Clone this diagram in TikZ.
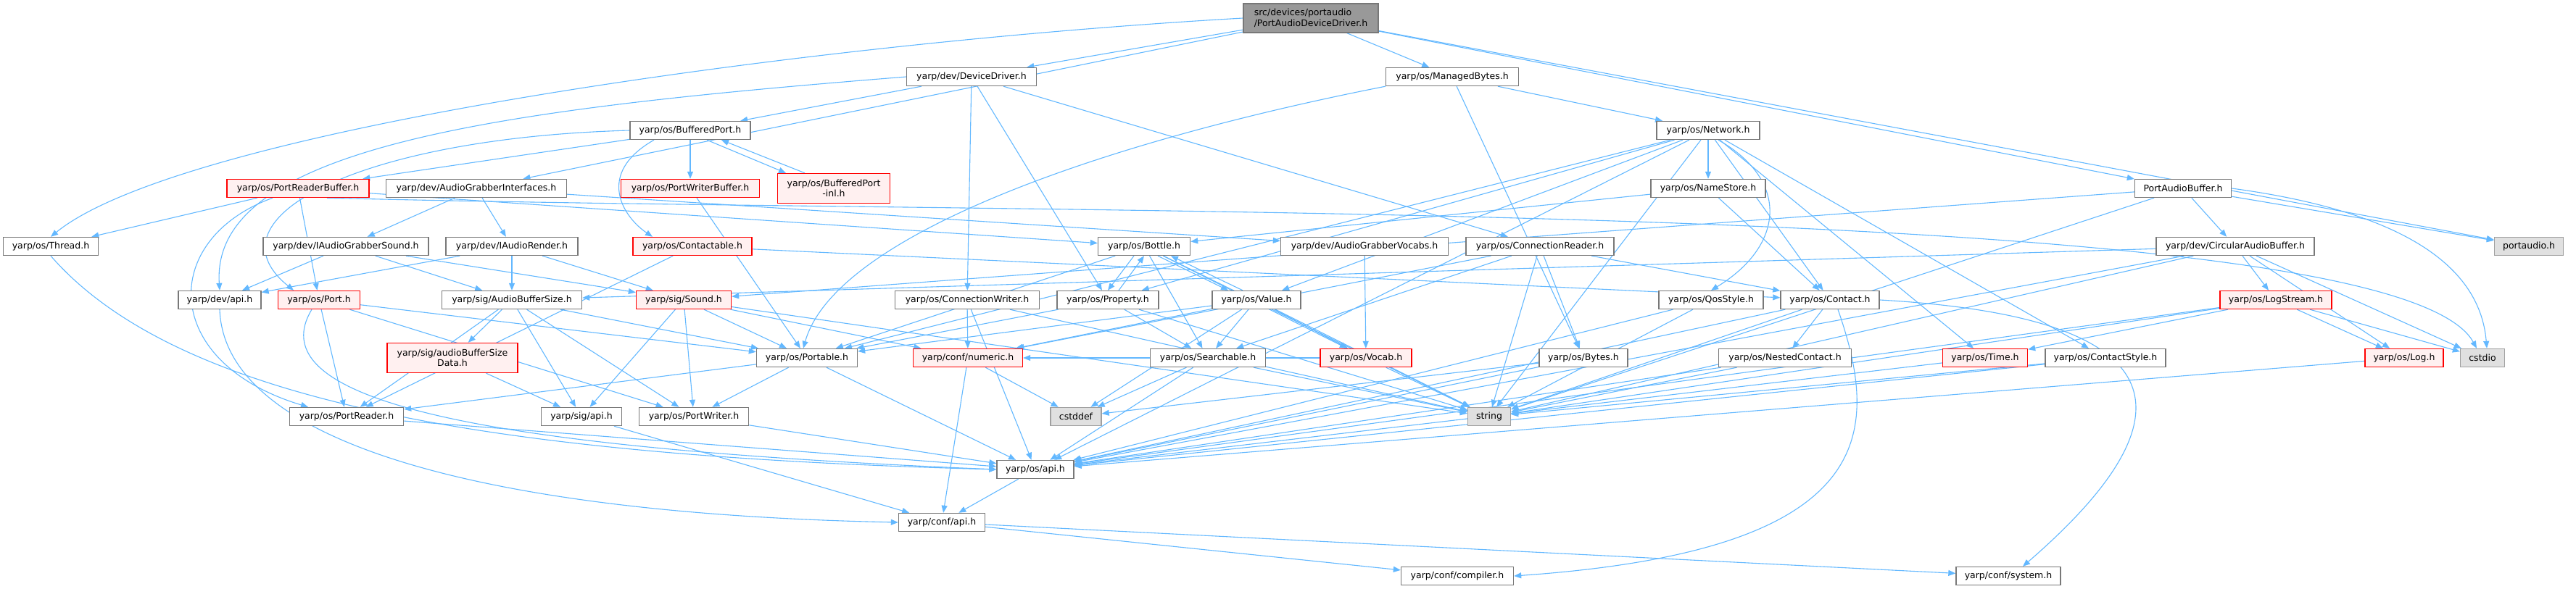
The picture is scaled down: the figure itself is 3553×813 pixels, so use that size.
\documentclass[tikz,border=0pt]{standalone}
\usepackage{fontspec}
\setmainfont{DejaVu Sans}
\usetikzlibrary{arrows.meta,backgrounds}
\definecolor{edgeblue}{RGB}{99,184,255}
\definecolor{boxgray}{RGB}{120,120,120}
\definecolor{syslight}{RGB}{224,224,224}
\definecolor{sysgray}{RGB}{160,160,160}
\definecolor{rootfill}{RGB}{153,153,153}
\definecolor{warnfill}{RGB}{255,240,240}
\tikzset{
  hdr/.style={draw=boxgray,fill=white,line width=1.4pt,minimum height=25pt,inner sep=0pt,
    font=\fontsize{12.5}{14.5}\selectfont},
  wd/.style={minimum width=#1pt},
  warn/.style={hdr,draw=red,fill=warnfill},
  sys/.style={hdr,draw=sysgray,fill=syslight},
  rootbox/.style={hdr,fill=rootfill,minimum height=40pt,align=left},
  dep/.style={draw=edgeblue,line width=1.1pt,-{Triangle[length=10pt,width=8pt]}}
}

\begin{document}
\begin{tikzpicture}[x=1pt,y=-1pt]
  \useasboundingbox (0,0) rectangle (3553,813);
  % top rows
  \node[rootbox,wd=186] (root) at (1808,25) {src/devices/portaudio\\/PortAudioDeviceDriver.h};
  \node[hdr,wd=179] (devdrv) at (1340,106) {yarp/dev/DeviceDriver.h};
  \node[hdr,wd=183] (mbytes) at (2003,106) {yarp/os/ManagedBytes.h};
  \node[hdr,wd=166] (bport) at (952,180) {yarp/os/BufferedPort.h};
  \node[hdr,wd=142] (network) at (2356,180) {yarp/os/Network.h};
  \node[warn,wd=196] (prbuf) at (411,260) {yarp/os/PortReaderBuffer.h};
  \node[hdr,wd=249] (agi) at (657,260) {yarp/dev/AudioGrabberInterfaces.h};
  \node[warn,wd=191] (pwbuf) at (952,260) {yarp/os/PortWriterBuffer.h};
  \node[warn,wd=155,minimum height=41pt,align=center] (bpinl) at (1150,260) {yarp/os/BufferedPort\\-inl.h};
  \node[hdr,wd=158] (namestore) at (2356,260) {yarp/os/NameStore.h};
  \node[hdr,wd=133] (pabuf) at (3011,260) {PortAudioBuffer.h};
  % middle rows
  \node[hdr,wd=131] (thread) at (70,340) {yarp/os/Thread.h};
  \node[hdr,wd=228] (iags) at (477,340) {yarp/dev/IAudioGrabberSound.h};
  \node[hdr,wd=182] (iar) at (706,340) {yarp/dev/IAudioRender.h};
  \node[warn,wd=164] (contactable) at (955,340) {yarp/os/Contactable.h};
  \node[hdr,wd=127] (bottle) at (1578,340) {yarp/os/Bottle.h};
  \node[hdr,wd=231] (agv) at (1882,340) {yarp/dev/AudioGrabberVocabs.h};
  \node[hdr,wd=204] (creader) at (2124,340) {yarp/os/ConnectionReader.h};
  \node[hdr,wd=218] (cab) at (3083,340) {yarp/dev/CircularAudioBuffer.h};
  \node[sys,wd=95] (portaudio) at (3488,340) {portaudio.h};
  \node[hdr,wd=114] (devapi) at (303,414) {yarp/dev/api.h};
  \node[warn,wd=113] (port) at (440,414) {yarp/os/Port.h};
  \node[hdr,wd=193] (abs) at (706,414) {yarp/sig/AudioBufferSize.h};
  \node[warn,wd=131] (sound) at (943,414) {yarp/sig/Sound.h};
  \node[hdr,wd=199] (cwriter) at (1334,414) {yarp/os/ConnectionWriter.h};
  \node[hdr,wd=140] (property) at (1528,414) {yarp/os/Property.h};
  \node[hdr,wd=122] (value) at (1733,414) {yarp/os/Value.h};
  \node[hdr,wd=144] (qos) at (2360,414) {yarp/os/QosStyle.h};
  \node[hdr,wd=136] (contact) at (2524,414) {yarp/os/Contact.h};
  \node[warn,wd=154] (logstream) at (3139,414) {yarp/os/LogStream.h};
  \node[warn,wd=180,minimum height=41pt,align=center] (absdata) at (624,494) {yarp/sig/audioBufferSize\\Data.h};
  \node[hdr,wd=139] (portable) at (1113,494) {yarp/os/Portable.h};
  \node[warn,wd=151] (numeric) at (1335,494) {yarp/conf/numeric.h};
  \node[hdr,wd=159] (searchable) at (1666,494) {yarp/os/Searchable.h};
  \node[warn,wd=126] (vocab) at (1884,494) {yarp/os/Vocab.h};
  \node[hdr,wd=122] (bytes) at (2184,494) {yarp/os/Bytes.h};
  \node[hdr,wd=183] (nested) at (2462,494) {yarp/os/NestedContact.h};
  \node[warn,wd=117] (time) at (2738,494) {yarp/os/Time.h};
  \node[hdr,wd=166] (cstyle) at (2904,494) {yarp/os/ContactStyle.h};
  \node[warn,wd=108] (log) at (3316,494) {yarp/os/Log.h};
  \node[sys,wd=61] (cstdio) at (3424,494) {cstdio};
  % bottom rows
  \node[hdr,wd=157] (preader) at (478,575) {yarp/os/PortReader.h};
  \node[hdr,wd=111] (sigapi) at (802,575) {yarp/sig/api.h};
  \node[hdr,wd=151] (pwriter) at (957,575) {yarp/os/PortWriter.h};
  \node[sys,wd=70] (cstddef) at (1484,575) {cstddef};
  \node[sys,wd=59] (string) at (2054,575) {string};
  \node[hdr,wd=106] (osapi) at (1428,648) {yarp/os/api.h};
  \node[hdr,wd=119] (confapi) at (1299,721) {yarp/conf/api.h};
  \node[hdr,wd=155] (compiler) at (2010,795) {yarp/conf/compiler.h};
  \node[hdr,wd=144] (system) at (2770,795) {yarp/conf/system.h};

  \begin{scope}[on background layer]
    \foreach \a/\b in {root/devdrv,root/mbytes,root/pabuf,root/portaudio,root/agi,
      devdrv/bport,devdrv/cwriter,devdrv/property,devdrv/creader,
      mbytes/bytes,mbytes/network,bport/prbuf,bport/pwbuf,
      network/portable,network/property,network/value,network/namestore,network/contact,
      network/time,network/cstyle,network/string,network/osapi,
      prbuf/thread,prbuf/port,prbuf/bottle,agi/iags,agi/iar,agi/agv,pwbuf/portable,
      namestore/bottle,namestore/contact,
      pabuf/cab,pabuf/portaudio,pabuf/string,pabuf/sound,
      cab/logstream,cab/log,cab/cstdio,cab/osapi,cab/abs,cab/string,
      iags/devapi,iags/abs,iags/sound,iar/devapi,iar/abs,iar/sound,
      contactable/preader,contactable/contact,
      bottle/searchable,bottle/portable,bottle/vocab,bottle/string,agv/vocab,
      creader/contact,creader/bytes,creader/string,creader/searchable,creader/numeric,
      cwriter/numeric,cwriter/osapi,cwriter/string,
      property/portable,property/searchable,property/string,
      value/numeric,value/searchable,value/portable,value/vocab,value/cstddef,value/string,
      qos/string,qos/osapi,contact/nested,contact/string,contact/osapi,
      logstream/time,logstream/log,logstream/cstdio,logstream/string,logstream/osapi,
      port/preader,port/portable,port/pwriter,
      abs/absdata,abs/sigapi,abs/preader,abs/pwriter,abs/portable,absdata/sigapi,
      sound/sigapi,sound/portable,sound/numeric,sound/pwriter,sound/string,
      portable/preader,portable/pwriter,portable/osapi,
      numeric/cstddef,numeric/confapi,searchable/cstddef,searchable/osapi,searchable/string,
      vocab/string,vocab/numeric,bytes/cstddef,bytes/osapi,nested/string,nested/osapi,
      time/osapi,cstyle/osapi,cstyle/string,log/osapi,
      preader/osapi,pwriter/osapi,sigapi/confapi,osapi/confapi,
      confapi/compiler,confapi/system}
      \draw[dep] (\a) -- (\b);
    % long curved ones
    \draw[dep] (root.west) .. controls (1100,60) and (250,180) .. (thread.north);
    \draw[dep] (devdrv.west) .. controls (700,150) and (290,200) .. (devapi.north);
    \draw[dep] (bport.west) .. controls (500,190) and (280,300) .. ([xshift=-35pt]port.north);
    \draw[dep] ([xshift=-50pt]bport.south) .. controls (820,240) and (860,300) .. ([xshift=-55pt]contactable.north);
    \draw[dep] (mbytes.south west) .. controls (1500,200) and (1150,330) .. ([xshift=-5pt]portable.north);
    \draw[dep] ([xshift=-35pt]prbuf.south) .. controls (220,330) and (220,500) .. ([xshift=-53pt]preader.north);
    \draw[dep] ([xshift=40pt]prbuf.south) .. controls (1500,300) and (3300,270) .. ([xshift=-8pt]cstdio.north);
    \draw[dep] (thread.south) .. controls (250,560) and (700,630) .. (osapi.west);
    \draw[dep] ([xshift=-10pt]port.south) .. controls (350,560) and (700,620) .. (osapi.west);
    \draw[dep] (devapi.south) .. controls (310,620) and (700,710) .. (confapi.west);
    \draw[dep] ([xshift=11pt]contact.south) .. controls (2595,600) and (2590,760) .. (compiler.east);
    \draw[dep] (contact.east) .. controls (3050,440) and (3000,600) .. ([xshift=20pt]system.north);
    \draw[dep] ([xshift=14pt]network.south) .. controls (2470,250) and (2460,340) .. (qos.north);
    \draw[dep] (pabuf.east) .. controls (3300,290) and (3420,360) .. ([xshift=6pt]cstdio.north);
    % cycles
    \draw[dep] ([xshift=23pt]bport.south) -- ([xshift=-66pt]bpinl.north);
    \draw[dep] ([xshift=-40pt]bpinl.north) -- ([xshift=43pt]bport.south);
    \draw[dep] ([xshift=-14pt]bottle.south) -- (property.north);
    \draw[dep] ([xshift=15pt]property.north) -- (bottle.south);
    \draw[dep] ([xshift=19pt]bottle.south) -- ([xshift=-39pt]value.north);
    \draw[dep] ([xshift=-19pt]value.north) -- ([xshift=37pt]bottle.south);
  \end{scope}
\end{tikzpicture}
\end{document}
